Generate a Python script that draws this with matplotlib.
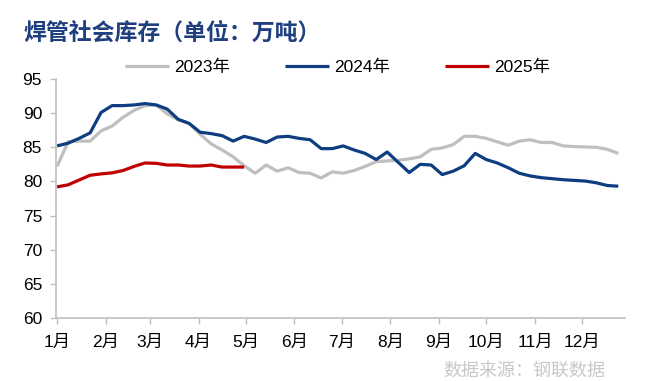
import matplotlib
matplotlib.use("Agg")
import matplotlib.pyplot as plt
from matplotlib import font_manager
import numpy as np

# ---- data ----
months = ["1月", "2月", "3月", "4月", "5月", "6月", "7月", "8月", "9月", "10月", "11月", "12月"]
month_days = [31, 28, 31, 30, 31, 30, 31, 31, 30, 31, 30, 31]

y2023 = [82.2, 85.8, 85.9, 85.9, 87.4, 88.1, 89.4, 90.4, 91.1, 91.2, 89.9, 89.0,
         88.5, 86.9, 85.5, 84.6, 83.6, 82.3, 81.2, 82.4, 81.5, 82.0, 81.3, 81.2,
         80.5, 81.4, 81.2, 81.6, 82.2, 82.9, 83.0, 83.1, 83.3, 83.6, 84.7, 84.9,
         85.4, 86.6, 86.6, 86.3, 85.8, 85.3, 85.9, 86.1, 85.7, 85.7, 85.2, 85.1,
         85.05, 85.0, 84.7, 84.1]
y2024 = [85.2, 85.6, 86.3, 87.1, 90.1, 91.1, 91.1, 91.2, 91.4, 91.2, 90.6, 89.1,
         88.5, 87.2, 87.0, 86.7, 85.9, 86.6, 86.2, 85.7, 86.5, 86.6, 86.3, 86.1,
         84.8, 84.8, 85.2, 84.6, 84.1, 83.2, 84.3, 82.8, 81.3, 82.5, 82.4, 81.0,
         81.5, 82.3, 84.1, 83.2, 82.7, 82.0, 81.2, 80.8, 80.55, 80.4, 80.25, 80.15,
         80.05, 79.8, 79.4, 79.3]
y2025 = [79.2, 79.5, 80.2, 80.9, 81.1, 81.25, 81.6, 82.2, 82.7, 82.65, 82.4, 82.4,
         82.25, 82.25, 82.4, 82.1, 82.1, 82.1]
series_names = ["2023年", "2024年", "2025年"]

# ---- fonts ----
avail = {f.name for f in font_manager.fontManager.ttflist}
latin = "Liberation Sans Narrow" if "Liberation Sans Narrow" in avail else "Liberation Sans"
fam = [latin, "Noto Sans CJK SC", "DejaVu Sans"]
plt.rcParams["font.family"] = fam

fig = plt.figure(figsize=(6.45, 3.81), dpi=100)
ax = fig.add_axes([0.0868, 0.1654, 0.882, 0.6273])

colors = ["#BFBFBF", "#0E3D80", "#C00000"]
for name, ys, c in zip(series_names, [y2023, y2024, y2025], colors):
    ax.plot(np.arange(len(ys)), ys, color=c, lw=2.3, label=name, solid_capstyle="butt")

ax.set_ylim(60, 95)
ax.set_yticks(np.arange(60, 96, 5))
ax.set_xlim(-0.1, 51.6)
tick_pos = np.concatenate([[0], np.cumsum(month_days)[:-1]]) / 7.0
ax.set_xticks(tick_pos)
ax.set_xticklabels(months)

for s in ["top", "right"]:
    ax.spines[s].set_visible(False)
for s in ["left", "bottom"]:
    ax.spines[s].set_color("#BFBFBF")
    ax.spines[s].set_linewidth(1.2)
ax.tick_params(axis="both", colors="#BFBFBF", length=4, width=1.0, labelsize=12.5,
               labelcolor="black")
ax.tick_params(axis="x", pad=8)
ax.tick_params(axis="y", pad=6)

leg = fig.legend(loc="center left", bbox_to_anchor=(0.194, 0.823), ncol=3, frameon=False,
                 fontsize=12.5, handlelength=2.5, handletextpad=0.3, columnspacing=3.2,
                 borderaxespad=0, borderpad=0)

fig.text(0.037, 0.912, "焊管社会库存（单位：万吨）", fontsize=16.5, fontweight="bold",
         color="#1F3F7F", family=["Noto Sans CJK SC"], va="center", ha="left")
fig.text(0.938, 0.028, "数据来源：钢联数据", fontsize=13, color="#C8C8C8",
         family=["Noto Sans CJK SC"], va="center", ha="right")

fig.savefig("out.png", dpi=100)
